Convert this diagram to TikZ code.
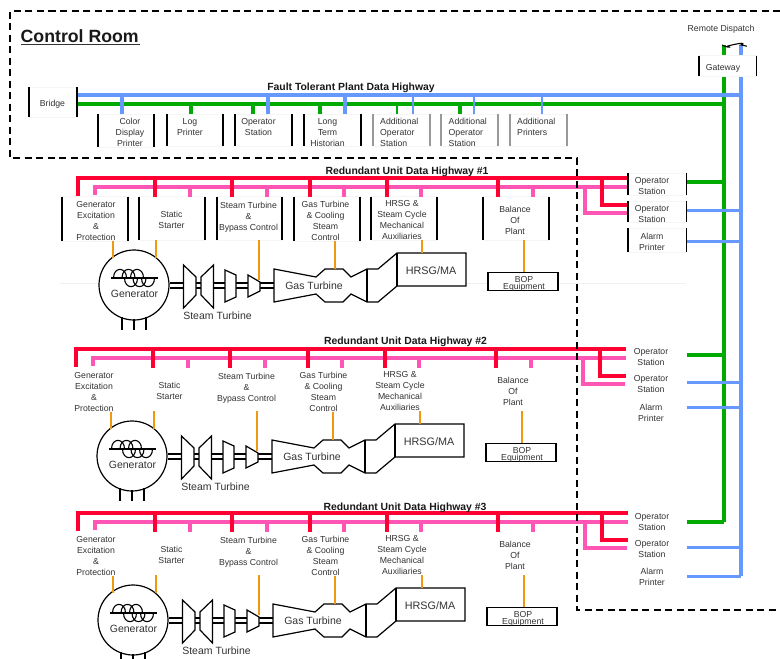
\documentclass[tikz,border=0pt]{standalone}
\usepackage{fontspec}
\setmainfont{Liberation Sans}
\usetikzlibrary{calc}
\definecolor{busred}{HTML}{FF0033}
\definecolor{buspink}{HTML}{FF55B5}
\definecolor{busblue}{HTML}{6699FF}
\definecolor{busgreen}{HTML}{00AA00}
\definecolor{tick}{HTML}{EE9911}
\definecolor{ink}{HTML}{333333}
\tikzset{
  lbl/.style={inner sep=0,yshift=-0.7pt,align=center,text=ink,font=\fontsize{8.7}{10.9}\selectfont},
  lblleft/.style={inner sep=0,yshift=-0.7pt,align=left,text=ink,font=\fontsize{8.7}{10.9}\selectfont},
  mach/.style={inner sep=0,text=ink,font=\fontsize{10.5}{12}\selectfont},
  bold title/.style={inner sep=0,yshift=-0.7pt,text=black!90,font=\fontsize{10.4}{12}\bfseries\selectfont},
  boxbody/.style={inner sep=0,outer sep=0,fill=white,draw=black!4,line width=.5pt},
  barline/.style={draw=black,line width=1.3pt},
  graybar/.style={draw=black!40},
  redbus/.style={draw=busred,line width=3.6pt},
  pinkbus/.style={draw=buspink,line width=3.2pt},
  bluebus/.style={draw=busblue,line width=3.6pt},
  greenbus/.style={draw=busgreen,line width=3.6pt},
  ticklink/.style={draw=tick,line width=1.1pt},
  machline/.style={draw=black,line width=1.2pt,line join=miter},
  zone/.style={draw=black,line width=1.5pt,dash pattern=on 7pt off 4.5pt},
  boxink/.style={}
}
\newcommand{\barbox}[6][]{%
  \node[boxbody,boxink,minimum width={(#4-#3)*1pt},minimum height={(#6-#5)*1pt}] (#2) at ({(#3+#4)/2},{(#5+#6)/2}) {};
  \draw[barline,#1,boxink] (#2.north west)--(#2.south west) (#2.north east)--(#2.south east);
}
\newcommand{\halfcoil}[2]{(#1-6.5,278) .. controls (#1-6.5,278-#2*11.5) and (#1+6.5,278-#2*11.5) .. (#1+6.5,278)}
\begin{document}
\begin{tikzpicture}[x=1pt,y=-1pt]
\useasboundingbox (0,0) rectangle (780,659);
\fill[white] (0,0) rectangle (780,659);

% zone boundary
\coordinate (za) at (780,11);
\coordinate (zb) at (10,11);
\coordinate (zc) at (10,158);
\coordinate (zd) at (577,158);
\coordinate (ze) at (577,610);
\coordinate (zf) at (780,610);

\node[inner sep=0,anchor=west,font=\fontsize{17.7}{20}\bfseries\selectfont,text=black!90] (title) at (20.5,36) {Control Room};
\draw[line width=1.1pt,black!80] (20.5,44.5) -- (139.5,44.5);

% faint rule of unit 1
\draw[black!6,line width=.8pt] (60,283) -- (686,283);

% trunks
\coordinate (gtop) at (724,45);
\coordinate (btop) at (741,45);
\coordinate (gbot) at (724,522);
\coordinate (bbot) at (741,576);
\draw[greenbus,line cap=butt] (gtop) -- (gbot);
\draw[bluebus,line cap=butt] (btop) -- (bbot);

% plant highway
\coordinate (hbl) at (78,95);
\coordinate (hgl) at (78,104);
\draw[greenbus] (hgl) -- (hgl -| gtop);
\draw[bluebus] (hbl) -- (hbl -| btop);
\node[bold title] (ptitle) at (351,87) {Fault Tolerant Plant Data Highway};

% gateway
\barbox{gateway}{699}{756.5}{55.5}{76}
\node[lbl] (tgate) at (723,67.5) {Gateway};
\node[lbl] (tremote) at (721,29) {Remote Dispatch};
\draw[black,line width=1.1pt] (gtop) ++(-2,0) .. controls ++(3,2) and ++(4,2) .. ++(6,1) .. controls ++(3,-1) and ++(8,-4) .. ++(13,-1) .. controls ++(2,0) and ++(3,1) .. ++(5,1);

% bridge
\barbox{bridge}{29}{77}{87}{117}
\node[lbl] (tbridge) at (52.5,104) {Bridge};

% control room stations
\barbox{ccd}{98}{154}{114}{147}
\barbox{clog}{167}{223}{114}{146}
\barbox{cop}{235}{292}{114}{146}
\barbox{chist}{304}{361}{114}{146}
\barbox[graybar]{cao}{373}{430}{114}{146}
\barbox[graybar]{cap}{441}{498}{114}{146}
\barbox[graybar]{cpr}{510}{567}{114}{146}
\node[lbl] at (130,132) {Color\\Display\\Printer};
\node[lbl] at (190,126.5) {Log\\Printer};
\node[lbl] at (258.5,126.5) {Operator\\Station};
\node[lbl] at (327.5,132) {Long\\Term\\Historian};
\node[lblleft,anchor=north west] at (380,117) {Additional\\Operator\\Station};
\node[lblleft,anchor=north west] at (448.5,117) {Additional\\Operator\\Station};
\node[lblleft,anchor=north west] at (517,117) {Additional\\Printers};

\foreach \b/\off/\w in {ccd/24/3.6,cop/33/3.6,chist/41/3.6,cao/40/1.8,cap/33/1.8,cpr/32/1.8}{
  \draw[bluebus,line width=\w pt] ([xshift=\off pt]\b.north west) coordinate (t) -- (t |- hbl);
}
\foreach \b/\off/\w in {clog/24/3.6,cop/18/3.6,chist/16/3.6,cao/24/1.8,cap/19/3.6}{
  \draw[greenbus,line width=\w pt] ([xshift=\off pt]\b.north west) coordinate (t) -- (t |- hgl);
}

% units
\foreach \n/\dx/\dy/\mx in {1/0/0/0,2/-2/171/0,3/0/335/-1}{
  \ifnum\n=1 \tikzset{boxink/.style={}}\else\tikzset{boxink/.style={draw=none}}\fi
  \begin{scope}[shift={(\dx,\dy)}]
    \coordinate (red\n) at (78,178);
    \coordinate (pink\n) at (95,187);
    \coordinate (redend\n) at (628,178);
    \coordinate (pinkend\n) at (628,187);
    \draw[pinkbus,line join=miter] (pink\n |- 0,195) -- (pink\n) -- (pinkend\n);
    \draw[redbus,line join=miter] (red\n |- 0,195.5) -- (red\n) -- (redend\n);
    \draw[pinkbus,line join=miter] (585,187) -- (585,213) -- (627,213);
    \draw[redbus,line join=miter] (602,178) -- (602,205) -- (628,205);

    \barbox{ge\n}{62}{128}{196.5}{241}
    \barbox{ss\n}{139}{205}{196.5}{240}
    \barbox{st\n}{217}{282}{196.5}{240}
    \barbox{gt\n}{294}{360}{196.5}{241}
    \barbox{hr\n}{371}{437}{196.5}{240}
    \barbox{bp\n}{483}{549}{196.5}{240}
    \node[lbl] at (96,220) {Generator\\Excitation\\\&\\Protection};
    \node[lbl] at (171.5,219) {Static\\Starter};
    \node[lbl] at (248.5,216.5) {Steam Turbine\\\&\\Bypass Control};
    \node[lbl] at (325.5,220) {Gas Turbine\\\& Cooling\\Steam\\Control};
    \node[lbl] at (402,219.5) {HRSG \&\\Steam Cycle\\Mechanical\\Auxiliaries};
    \node[lbl] at (515,220) {Balance\\Of\\Plant};

    \foreach \b/\off in {ss/16,st/15,gt/16,hr/16,bp/15}{
      \draw[redbus] ([xshift=\off pt]\b\n.north west) coordinate (t) -- (t |- red\n);
    }
    \foreach \b/\off in {ss/51,st/50,gt/50,hr/50,bp/50}{
      \draw[pinkbus] ([xshift=\off pt]\b\n.north west) coordinate (t) -- (t |- pink\n);
    }

    \begin{scope}[shift={(\mx,0)}]
      % machinery
      \node[circle,draw=black,line width=1.2pt,minimum size=70pt,inner sep=0,fill=white] (gen\n) at (134,285) {};
      \node[mach] at (134.5,294) {Generator};
      \draw[line width=1.2pt] (111,278) -- (158,278);
      \draw[line width=1.1pt] \halfcoil{120}{1} \halfcoil{128.5}{1} \halfcoil{137}{1}
         \halfcoil{131}{-1} \halfcoil{139.5}{-1} \halfcoil{148}{-1};
      \draw[machline] (122,317) -- (122,330) (134,319) -- (134,330) (146,317) -- (146,330);
      \draw[machline] (gen\n.east |- 0,283) -- (274,283) (gen\n.east |- 0,288) -- (274,288);
      \path[machline,fill=white] (183.5,265) -- (196,277) -- (196,295) -- (183.5,308) -- cycle;
      \path[machline,fill=white] (201,277) -- (213.5,265) -- (213.5,308) -- (201,295) -- cycle;
      \path[machline,fill=white] (225,270) -- (236,275) -- (236,297) -- (225,302) -- cycle;
      \path[machline,fill=white] (248,275) -- (260,282) -- (260,291) -- (248,297) -- cycle;
      \node[mach] at (217.5,316) {Steam Turbine};
      \path[machline,fill=white] (274,269) -- (316,277) -- (325,269) -- (343,269) -- (351,277) -- (367,269)
        -- (378,269) -- (397,253) -- (466,253) -- (466,286) -- (397,286) -- (378,302) -- (367,302)
        -- (351,294) -- (343,302) -- (325,302) -- (316,294) -- (274,302) -- cycle;
      \draw[machline] (367,269) -- (367,302) (397,253) -- (397,286);
      \node[mach] (gtt\n) at (314,286) {Gas Turbine};
      \node[mach,font=\fontsize{10.8}{12}\selectfont] (hrsg\n) at (431,270.5) {HRSG/MA};
      \node[draw=black,line width=1.2pt,minimum width=70pt,minimum height=18.5pt,inner sep=0,fill=white] (bop\n) at (523,281.5) {};
      \node[lbl] at (524,278.5) {BOP};
      \node[lbl] at (524,286.5) {Equipment};
    \end{scope}
    \draw[ticklink] (113,241) -- (113,258);
    \draw[ticklink] (156,240) -- (156,258);
    \draw[ticklink] (259,240) -- (259,280);
    \draw[ticklink] (335,241) -- (335,269);
    \draw[ticklink] (422,240) -- (422,253);
    \draw[ticklink] (524,240) -- (bop\n.north -| 524,0);
  \end{scope}
}
\node[bold title] at (407,171) {Redundant Unit Data Highway \#1};
\node[bold title] at (405.5,341) {Redundant Unit Data Highway \#2};
\node[bold title] at (405,507) {Redundant Unit Data Highway \#3};

% right-hand stations
\foreach \n/\ya/\yb/\yc/\ta/\tb/\tc/\lg/\lb/\lc/\tx in {%
  1/173/201/228/185.5/213/241.5/182/210/241/652,
  2/344/372/399/356.5/383.5/412/355/382/407/651,
  3/509/537/564/521.5/548.5/576.5/522/547/576/652}{
  \ifnum\n=1 \tikzset{boxink/.style={}}\else\tikzset{boxink/.style={draw=none,fill=none}}\fi
  \pgfmathsetmacro{\yaa}{\ya+22}\pgfmathsetmacro{\ybb}{\yb+21}\pgfmathsetmacro{\ycc}{\yc+24}
  \barbox{oa\n}{628}{686.5}{\ya}{\yaa}
  \barbox{ob\n}{628}{686.5}{\yb}{\ybb}
  \barbox{oc\n}{628}{686.5}{\yc}{\ycc}
  \node[lbl] at (\tx,\ta) {Operator\\Station};
  \node[lbl] at (\tx,\tb) {Operator\\Station};
  \node[lbl] at (\tx,\tc) {Alarm\\Printer};
  \draw[greenbus] (oa\n.east |- 0,\lg) coordinate (t) -- (t -| gtop);
  \draw[bluebus,line width=3pt] (ob\n.east |- 0,\lb) coordinate (t) -- (t -| btop);
  \draw[bluebus,line width=3pt] (oc\n.east |- 0,\lc) coordinate (t) -- (t -| btop);
}

% zone outline on top
\draw[zone] (za) -- (zb) -- (zc) -- (zd) -- (ze) -- (zf);
\end{tikzpicture}
\end{document}
